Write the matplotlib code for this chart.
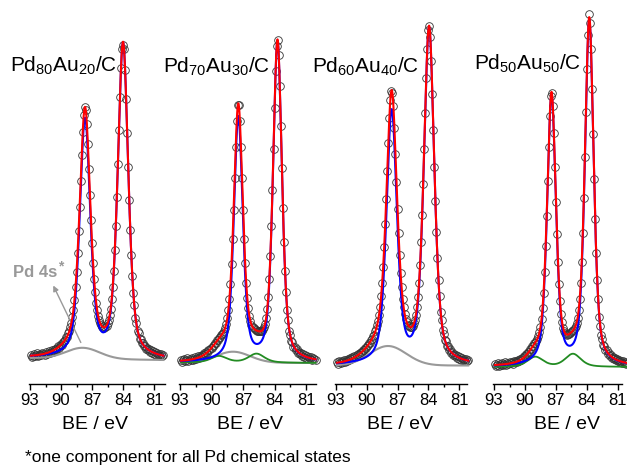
import matplotlib
matplotlib.use("Agg")
import matplotlib.pyplot as plt
import numpy as np

plt.rcParams['font.family'] = ['Liberation Sans', 'DejaVu Sans']
plt.rcParams['mathtext.default'] = 'regular'

W, H = 627, 469

titles = [r'Pd$_{80}$Au$_{20}$/C', r'Pd$_{70}$Au$_{30}$/C',
          r'Pd$_{60}$Au$_{40}$/C', r'Pd$_{50}$Au$_{50}$/C']
ticks = [93, 90, 87, 84, 81]
minor_ticks = [91.5, 88.5, 85.5, 82.5]

# fit components
# Au 4f doublet (7/2, 5/2): centre / eV, height, FWHM
au_c = [(84.0, 87.68), (83.72, 87.45), (83.92, 87.57), (83.77, 87.43)]
au_h = [(314, 237), (320, 244), (335, 252), (345, 269)]
au_w = [1.2, 1.0, 1.2, 1.0]
background = [(24, 26), (21, 21.5), (18.5, 18.5), (17, 17)]  # at 80 eV, 93 eV
# Pd 4s (grey): centre, height, FWHM ; None where absent
pd4s = [(87.9, 11, 3.8), (87.95, 11, 3.8), (87.93, 19.5, 4.2), None]
# second Au doublet (green): (centre, height) pairs
au2 = [None, ((85.72, 9), (89.3, 6.5)), None, ((85.35, 13), (89.0, 10))]

# measured points, 92.9 -> 80.1 eV in 0.1 eV steps
counts_80 = [29, 27, 28, 30, 28, 29, 31, 28, 29, 30, 29, 31, 30, 29, 32, 30, 31, 33, 31, 32,
             34, 32, 34, 35, 34, 36, 38, 36, 38, 40, 39, 42, 43, 44, 47, 47, 51, 53, 57, 61,
             67, 74, 84, 97, 112, 131, 153, 177, 203, 229, 252, 269, 277, 274, 260, 240, 215, 189, 164, 141,
             121, 105, 92, 81, 74, 68, 64, 61, 59, 57, 58, 56, 57, 58, 61, 64, 69, 75, 85, 97,
             113, 134, 158, 187, 220, 254, 287, 316, 335, 339, 335, 314, 285, 251, 217, 184, 154, 129, 108, 91,
             79, 66, 61, 53, 51, 45, 45, 41, 41, 38, 38, 35, 36, 34, 35, 32, 34, 31, 33, 30,
             32, 29, 31, 29, 30, 28, 30, 28, 29]
counts_70 = [24, 22, 24, 25, 23, 24, 26, 23, 25, 24, 26, 24, 25, 27, 25, 26, 28, 26, 28, 27,
             29, 29, 31, 30, 32, 31, 34, 34, 36, 36, 38, 39, 41, 41, 44, 44, 46, 47, 49, 50,
             51, 53, 56, 60, 66, 74, 85, 100, 120, 145, 174, 206, 237, 263, 279, 279, 263, 237, 206, 174,
             145, 121, 101, 86, 76, 68, 63, 59, 57, 56, 55, 54, 53, 53, 53, 53, 53, 53, 55, 57,
             60, 66, 75, 87, 105, 128, 158, 194, 235, 276, 313, 338, 344, 329, 298, 258, 216, 176, 142, 113,
             92, 74, 64, 53, 49, 43, 42, 37, 37, 34, 35, 31, 32, 30, 31, 28, 30, 27, 29, 26,
             28, 25, 27, 25, 27, 24, 26, 25, 24]
counts_60 = [22, 20, 23, 22, 21, 23, 22, 24, 22, 24, 23, 25, 24, 26, 25, 27, 26, 28, 27, 29,
             30, 29, 31, 32, 32, 34, 34, 36, 36, 38, 39, 41, 41, 44, 45, 48, 49, 53, 55, 59,
             63, 69, 77, 88, 101, 117, 137, 160, 185, 213, 241, 266, 284, 293, 291, 278, 256, 230, 202, 175,
             151, 129, 111, 97, 85, 77, 70, 65, 62, 59, 58, 57, 57, 57, 58, 61, 64, 69, 77, 87,
             101, 119, 142, 169, 200, 235, 271, 306, 335, 354, 358, 347, 323, 290, 254, 217, 183, 152, 126, 104,
             88, 72, 64, 54, 50, 44, 43, 38, 38, 34, 35, 31, 32, 29, 30, 28, 29, 26, 28, 25,
             27, 24, 26, 24, 25, 23, 25, 23, 24]
counts_50 = [20, 18, 19, 21, 18, 20, 19, 21, 19, 20, 22, 19, 21, 20, 22, 21, 22, 20, 23, 22,
             23, 22, 24, 23, 25, 24, 26, 26, 28, 28, 30, 30, 32, 32, 35, 35, 38, 38, 41, 41,
             43, 45, 48, 52, 57, 65, 76, 91, 112, 138, 168, 203, 237, 268, 288, 291, 278, 251, 217, 182,
             150, 122, 100, 83, 70, 62, 56, 53, 51, 50, 49, 50, 50, 51, 52, 53, 54, 56, 58, 61,
             66, 74, 85, 101, 122, 151, 186, 227, 272, 315, 349, 370, 361, 335, 295, 250, 205, 165, 131, 104,
             85, 67, 58, 49, 45, 39, 38, 34, 34, 30, 31, 28, 29, 26, 27, 25, 26, 24, 25, 23,
             24, 22, 23, 21, 23, 21, 22, 20, 21]
counts = [counts_80, counts_70, counts_60, counts_50]


def pv(E, c, h, w, eta=0.5):
    d = (E - c) / w
    return h * (eta / (1 + 4 * d**2) + (1 - eta) * np.exp(-4 * np.log(2) * d**2))


def gauss(E, c, h, w):
    return h * np.exp(-4 * np.log(2) * ((E - c) / w)**2)


def components(i, E):
    lo, hi = background[i]
    bg = lo + (hi - lo) * (E - 80) / 13
    blue = pv(E, au_c[i][0], au_h[i][0], au_w[i]) + pv(E, au_c[i][1], au_h[i][1], au_w[i])
    grey = gauss(E, *pd4s[i]) if pd4s[i] else None
    green = None
    if au2[i]:
        green = sum(pv(E, c, h, 1.8) for c, h in au2[i])
    return bg, blue, grey, green


# axes layout in pixels: left, width, xlim right end
layout = [(29, 136.4, 79.9), (179, 136.5, 80.1), (335, 132.2, 80.2), (493, 129, 80.6)]
title_pos = [(10, 72), (163, 73), (312, 73), (474, 70)]
label_x = [95, 250, 400, 567]

fig = plt.figure(figsize=(W / 100, H / 100), dpi=100)

E_fit = np.linspace(92.9, 80.1, 641)
E_data = np.round(np.arange(92.9, 80.05, -0.1), 2)

for i in range(4):
    left, width, lo = layout[i]
    ax = fig.add_axes([left / W, (H - 384) / H, width / W, 384 / H])
    ax.set_xlim(93.1, lo)
    ax.set_ylim(0, 384)
    for s in ['left', 'right', 'top']:
        ax.spines[s].set_visible(False)
    ax.spines['bottom'].set_linewidth(1.0)
    ax.set_yticks([])
    ax.set_xticks(ticks)
    ax.set_xticks(minor_ticks, minor=True)
    ax.tick_params(axis='x', which='major', direction='out', length=4, width=1, labelsize=12, pad=2.5)
    ax.tick_params(axis='x', which='minor', direction='out', length=2.2, width=1)
    ax.patch.set_alpha(0)

    bg, blue, grey, green = components(i, E_fit)
    total = bg + blue
    if grey is not None:
        total = total + grey
    if green is not None:
        total = total + green

    ax.plot(E_data, counts[i], 'o', ms=5.5, mfc='none', mec='#333333', mew=0.6,
            clip_on=False, zorder=2)
    if grey is not None:
        ax.plot(E_fit, bg + grey, color='#999999', lw=1.5, clip_on=False, zorder=3)
    if green is not None:
        ax.plot(E_fit, bg + green, color='#228b22', lw=1.3, clip_on=False, zorder=3)
    ax.plot(E_fit, bg + blue, color='#0000ff', lw=1.5, clip_on=False, zorder=4)
    ax.plot(E_fit, total, color='#ff0000', lw=1.5, clip_on=False, zorder=5)

    fig.text(title_pos[i][0] / W, 1 - title_pos[i][1] / H, titles[i], fontsize=15,
             ha='left', va='baseline')
    fig.text(label_x[i] / W, 1 - 424 / H, 'BE / eV', fontsize=14, ha='center', va='center')

    if i == 0:
        ax.annotate('', xy=(90.87, 101), xytext=(87.97, 39),
                    arrowprops=dict(arrowstyle='-|>', color='#999999', lw=1, mutation_scale=8),
                    annotation_clip=False)

fig.text(13 / W, 1 - 277 / H, 'Pd 4s', fontsize=12, fontweight='bold', color='#999999',
         ha='left', va='baseline')
fig.text(58 / W, 1 - 270 / H, '*', fontsize=10, fontweight='bold', color='#999999',
         ha='left', va='baseline')
fig.text(25 / W, 1 - 462 / H, '*one component for all Pd chemical states', fontsize=12.5,
         ha='left', va='baseline')

fig.savefig('out.png', dpi=100)
